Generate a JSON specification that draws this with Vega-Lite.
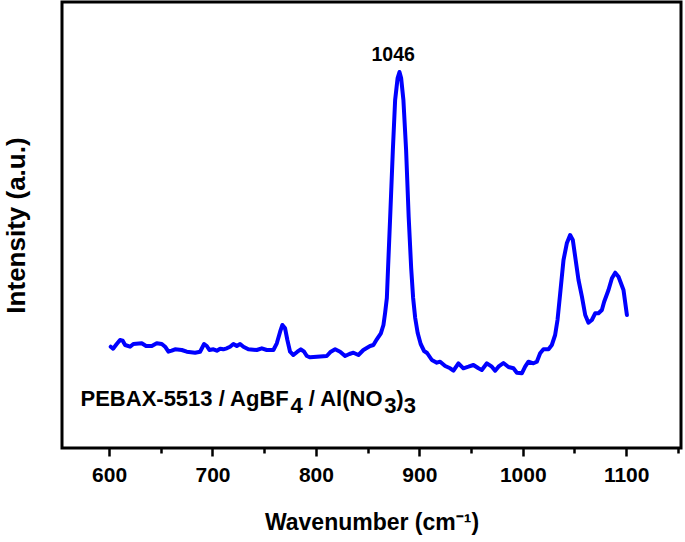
{
  "$schema": "https://vega.github.io/schema/vega-lite/v6.json",
  "width": 619,
  "height": 446,
  "autosize": {"type": "none"},
  "padding": {"left": 62, "top": 2, "right": 4, "bottom": 94},
  "background": "white",
  "config": {
    "font": "Liberation Sans",
    "view": {"stroke": "black", "strokeWidth": 3}
  },
  "datasets": {
    "spectrum": [
      {"wavenumber": 601.6, "intensity": 101.3}, {"wavenumber": 603.9, "intensity": 99.3},
      {"wavenumber": 607.4, "intensity": 104}, {"wavenumber": 610.6, "intensity": 108},
      {"wavenumber": 613.2, "intensity": 107.3}, {"wavenumber": 615.5, "intensity": 103},
      {"wavenumber": 620.3, "intensity": 101.3}, {"wavenumber": 623.5, "intensity": 104},
      {"wavenumber": 631.6, "intensity": 104.7}, {"wavenumber": 635.8, "intensity": 102},
      {"wavenumber": 641.3, "intensity": 102}, {"wavenumber": 646.1, "intensity": 104.7},
      {"wavenumber": 651.0, "intensity": 104}, {"wavenumber": 654.2, "intensity": 101.3},
      {"wavenumber": 657.4, "intensity": 96.3}, {"wavenumber": 660.6, "intensity": 97.3},
      {"wavenumber": 663.8, "intensity": 98.7}, {"wavenumber": 670.3, "intensity": 98},
      {"wavenumber": 675.1, "intensity": 96.3}, {"wavenumber": 683.2, "intensity": 95.3},
      {"wavenumber": 688.0, "intensity": 96.3}, {"wavenumber": 691.9, "intensity": 104},
      {"wavenumber": 694.5, "intensity": 102}, {"wavenumber": 697.0, "intensity": 98},
      {"wavenumber": 700.9, "intensity": 98.7}, {"wavenumber": 704.2, "intensity": 97.3},
      {"wavenumber": 707.4, "intensity": 99.3}, {"wavenumber": 710.5, "intensity": 98.7},
      {"wavenumber": 713.8, "intensity": 99.7}, {"wavenumber": 717.0, "intensity": 101.3},
      {"wavenumber": 720.2, "intensity": 104}, {"wavenumber": 723.5, "intensity": 102},
      {"wavenumber": 726.7, "intensity": 104}, {"wavenumber": 729.9, "intensity": 101.3},
      {"wavenumber": 734.7, "intensity": 98.7}, {"wavenumber": 742.8, "intensity": 98},
      {"wavenumber": 747.7, "intensity": 99.7}, {"wavenumber": 752.5, "intensity": 98},
      {"wavenumber": 758.9, "intensity": 98}, {"wavenumber": 762.2, "intensity": 104.7},
      {"wavenumber": 765.4, "intensity": 116.3}, {"wavenumber": 767.6, "intensity": 123},
      {"wavenumber": 770.2, "intensity": 119.7}, {"wavenumber": 772.4, "intensity": 108},
      {"wavenumber": 775.0, "intensity": 96.3}, {"wavenumber": 778.2, "intensity": 93},
      {"wavenumber": 782.1, "intensity": 96.3}, {"wavenumber": 785.4, "intensity": 98.7},
      {"wavenumber": 788.6, "intensity": 96.3}, {"wavenumber": 791.2, "intensity": 92},
      {"wavenumber": 794.4, "intensity": 90.7}, {"wavenumber": 800.9, "intensity": 91.3},
      {"wavenumber": 810.5, "intensity": 92}, {"wavenumber": 814.4, "intensity": 96.3},
      {"wavenumber": 818.6, "intensity": 98.7}, {"wavenumber": 823.4, "intensity": 96.3},
      {"wavenumber": 828.2, "intensity": 92}, {"wavenumber": 832.4, "intensity": 94},
      {"wavenumber": 836.3, "intensity": 95.3}, {"wavenumber": 841.1, "intensity": 93},
      {"wavenumber": 845.9, "intensity": 98}, {"wavenumber": 852.4, "intensity": 102},
      {"wavenumber": 855.6, "intensity": 103}, {"wavenumber": 858.9, "intensity": 108.7},
      {"wavenumber": 862.8, "intensity": 114.7}, {"wavenumber": 865.3, "intensity": 123},
      {"wavenumber": 866.9, "intensity": 135}, {"wavenumber": 868.6, "intensity": 150},
      {"wavenumber": 869.8, "intensity": 181}, {"wavenumber": 871.8, "intensity": 231},
      {"wavenumber": 874.4, "intensity": 298}, {"wavenumber": 876.6, "intensity": 348},
      {"wavenumber": 879.0, "intensity": 370}, {"wavenumber": 880.8, "intensity": 376},
      {"wavenumber": 882.4, "intensity": 370}, {"wavenumber": 884.6, "intensity": 348},
      {"wavenumber": 887.2, "intensity": 298}, {"wavenumber": 889.7, "intensity": 231},
      {"wavenumber": 892.1, "intensity": 180}, {"wavenumber": 894.0, "intensity": 150},
      {"wavenumber": 896.0, "intensity": 130}, {"wavenumber": 898.4, "intensity": 115},
      {"wavenumber": 901.3, "intensity": 104}, {"wavenumber": 904.6, "intensity": 97},
      {"wavenumber": 907.5, "intensity": 95}, {"wavenumber": 912.1, "intensity": 88},
      {"wavenumber": 916.9, "intensity": 85.3}, {"wavenumber": 920.1, "intensity": 86.3},
      {"wavenumber": 925.0, "intensity": 82}, {"wavenumber": 929.8, "intensity": 79.7},
      {"wavenumber": 933.0, "intensity": 77.3}, {"wavenumber": 937.8, "intensity": 84.7},
      {"wavenumber": 942.6, "intensity": 79.7}, {"wavenumber": 947.5, "intensity": 81.3},
      {"wavenumber": 952.3, "intensity": 83}, {"wavenumber": 957.2, "intensity": 79.7},
      {"wavenumber": 960.4, "intensity": 78}, {"wavenumber": 965.3, "intensity": 84.7},
      {"wavenumber": 970.1, "intensity": 81.3}, {"wavenumber": 973.3, "intensity": 77.3},
      {"wavenumber": 976.5, "intensity": 81.3}, {"wavenumber": 981.3, "intensity": 85},
      {"wavenumber": 986.2, "intensity": 81}, {"wavenumber": 991.0, "intensity": 79.7},
      {"wavenumber": 994.3, "intensity": 75.3}, {"wavenumber": 999.1, "intensity": 74.7},
      {"wavenumber": 1002.3, "intensity": 81.3}, {"wavenumber": 1005.5, "intensity": 86.3},
      {"wavenumber": 1010.3, "intensity": 84.7}, {"wavenumber": 1013.6, "intensity": 86.3},
      {"wavenumber": 1016.8, "intensity": 94.7}, {"wavenumber": 1020.0, "intensity": 98.7},
      {"wavenumber": 1024.9, "intensity": 98.7}, {"wavenumber": 1028.1, "intensity": 103},
      {"wavenumber": 1031.3, "intensity": 113}, {"wavenumber": 1033.6, "intensity": 128},
      {"wavenumber": 1036.2, "intensity": 154.7}, {"wavenumber": 1039.4, "intensity": 188},
      {"wavenumber": 1042.6, "intensity": 204.7}, {"wavenumber": 1045.8, "intensity": 213},
      {"wavenumber": 1048.4, "intensity": 208}, {"wavenumber": 1050.7, "intensity": 191.3},
      {"wavenumber": 1053.9, "intensity": 168}, {"wavenumber": 1057.2, "intensity": 151.3},
      {"wavenumber": 1060.4, "intensity": 133}, {"wavenumber": 1063.5, "intensity": 125.3},
      {"wavenumber": 1066.8, "intensity": 128}, {"wavenumber": 1070.0, "intensity": 134.7},
      {"wavenumber": 1073.2, "intensity": 134.7}, {"wavenumber": 1076.5, "intensity": 138},
      {"wavenumber": 1078.7, "intensity": 146.3}, {"wavenumber": 1082.9, "intensity": 158},
      {"wavenumber": 1086.2, "intensity": 169.7}, {"wavenumber": 1089.4, "intensity": 175.3},
      {"wavenumber": 1092.6, "intensity": 171.3}, {"wavenumber": 1097.4, "intensity": 158},
      {"wavenumber": 1100.7, "intensity": 133}
    ],
    "peakLabel": [{"wavenumber": 874.7, "intensity": 393, "label": "1046"}],
    "sampleLabel": [
      {"wavenumber": 572.4, "intensity": 42, "label": "PEBAX-5513 / AgBF"},
      {"wavenumber": 775.4, "intensity": 35, "label": "4"},
      {"wavenumber": 793.1, "intensity": 42, "label": "/ Al(NO"},
      {"wavenumber": 866.0, "intensity": 35, "label": "3"},
      {"wavenumber": 877.8, "intensity": 42, "label": ")"},
      {"wavenumber": 884.9, "intensity": 35, "label": "3"}
    ]
  },
  "layer": [
    {
      "data": {"name": "spectrum"},
      "mark": {"type": "line", "color": "#0000FF", "strokeWidth": 4, "strokeJoin": "round", "strokeCap": "round"},
      "encoding": {
        "x": {
          "field": "wavenumber", "type": "quantitative",
          "scale": {"domain": [554.5, 1153], "nice": false, "zero": false},
          "axis": {
            "title": "Wavenumber (cm⁻¹)",
            "titleFont": "Liberation Sans", "titleFontSize": 23, "titleFontWeight": "bold", "titleColor": "black",
            "titlePadding": 26,
            "values": [600, 650, 700, 750, 800, 850, 900, 950, 1000, 1050, 1100, 1150],
            "format": "d",
            "labelExpr": "datum.value % 100 === 0 ? datum.label : ''",
            "labelFont": "Liberation Sans", "labelFontSize": 21, "labelFontWeight": "bold", "labelColor": "black",
            "labelPadding": 8,
            "domain": false, "grid": false,
            "tickColor": "black", "tickWidth": 2.5,
            "tickSize": {"condition": {"test": "datum.value % 100 === 0", "value": 8}, "value": 5}
          }
        },
        "y": {
          "field": "intensity", "type": "quantitative",
          "scale": {"domain": [0, 446], "nice": false, "zero": false},
          "axis": {
            "title": "Intensity (a.u.)",
            "titleFont": "Liberation Sans", "titleFontSize": 26, "titleFontWeight": "bold", "titleColor": "black",
            "labels": false, "ticks": false, "domain": false, "grid": false,
            "minExtent": 0, "maxExtent": 0, "titlePadding": 33
          }
        }
      }
    },
    {
      "data": {"name": "peakLabel"},
      "mark": {"type": "text", "font": "Liberation Sans", "fontSize": 19.5, "fontWeight": "bold", "color": "black", "align": "center", "baseline": "middle"},
      "encoding": {
        "x": {"field": "wavenumber", "type": "quantitative"},
        "y": {"field": "intensity", "type": "quantitative"},
        "text": {"field": "label"}
      }
    },
    {
      "data": {"name": "sampleLabel"},
      "mark": {"type": "text", "font": "Liberation Sans", "fontSize": 22, "fontWeight": "bold", "color": "black", "align": "left", "baseline": "alphabetic"},
      "encoding": {
        "x": {"field": "wavenumber", "type": "quantitative"},
        "y": {"field": "intensity", "type": "quantitative"},
        "text": {"field": "label"}
      }
    }
  ]
}
